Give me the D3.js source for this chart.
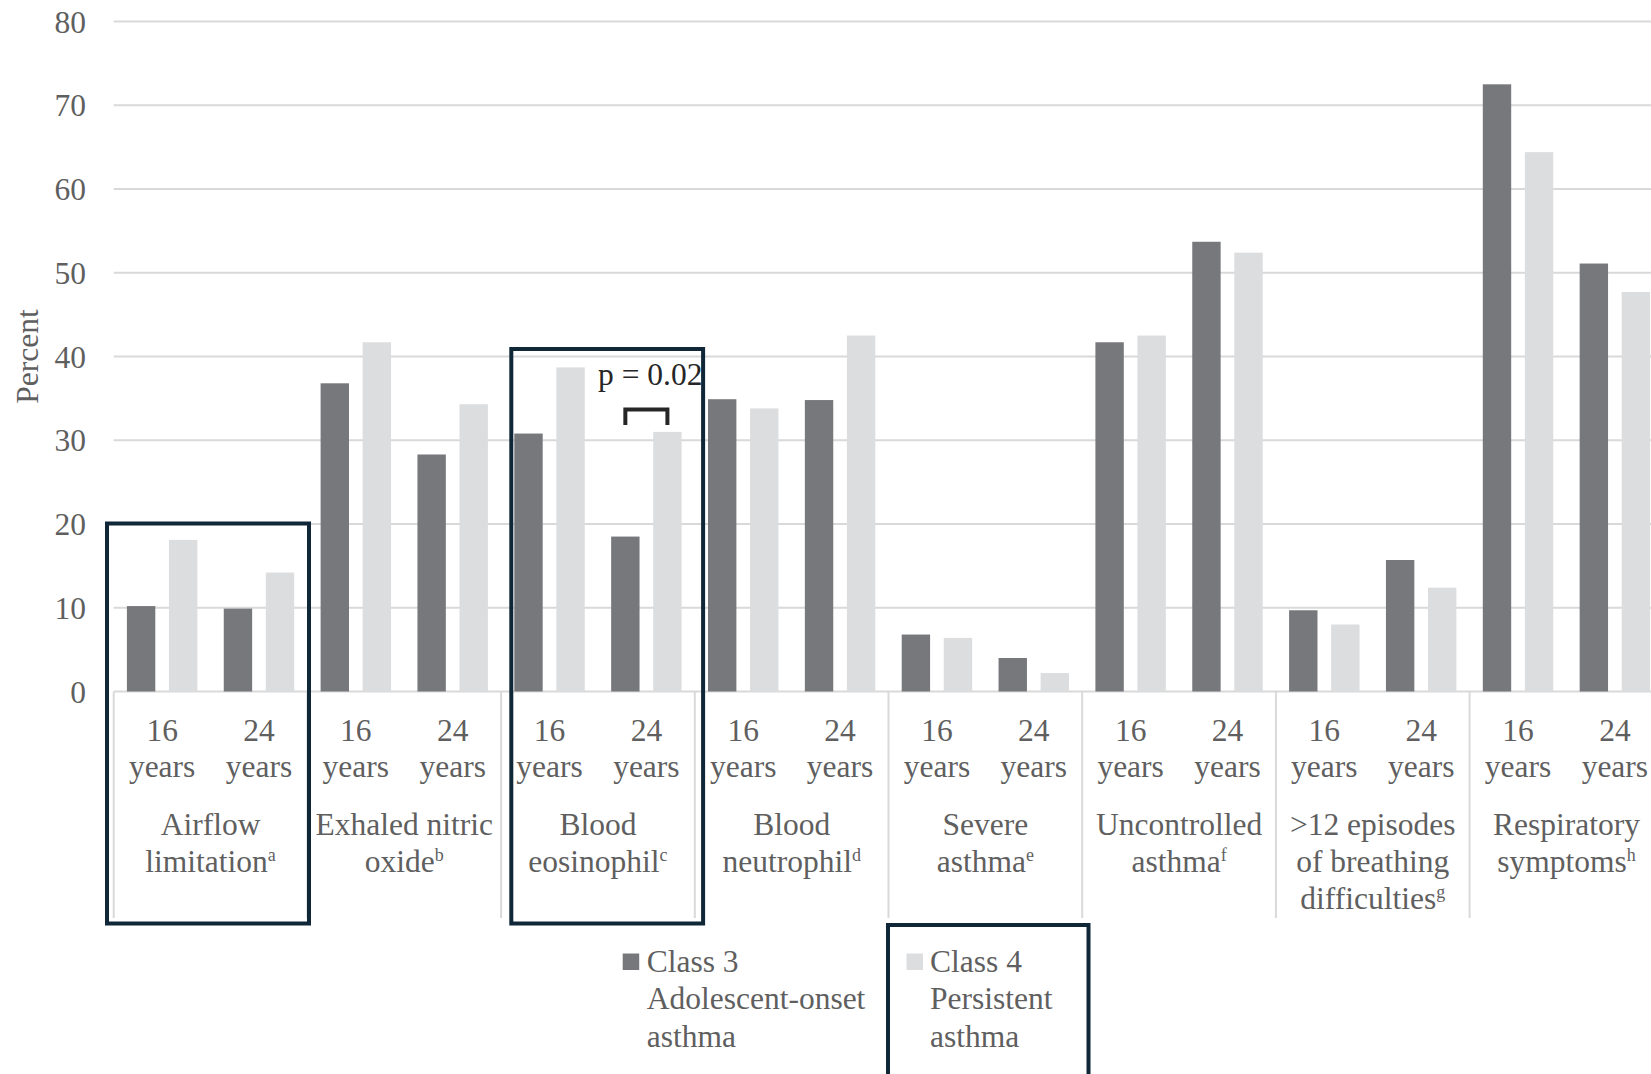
<!DOCTYPE html>
<html>
<head>
<meta charset="utf-8">
<script src="https://cdn.jsdelivr.net/npm/d3@7"></script>
<style>
  html, body { margin: 0; padding: 0; background: #ffffff; }
  svg { display: block; }
  text { font-family: "Liberation Serif", "Times New Roman", serif; }
</style>
</head>
<body>
<svg id="chart" width="1651" height="1074"></svg>
<script>
// Outcome categories (label lines) and their footnote markers
const categoryLines = [
  ["Airflow", "limitation"],
  ["Exhaled nitric", "oxide"],
  ["Blood", "eosinophil"],
  ["Blood", "neutrophil"],
  ["Severe", "asthma"],
  ["Uncontrolled", "asthma"],
  [">12 episodes", "of breathing", "difficulties"],
  ["Respiratory", "symptoms"]
];
const footnotes = ["a", "b", "c", "d", "e", "f", "g", "h"];

// Ages at assessment
const ages = ["16", "24"];
const ageUnit = "years";

// Percentages, ordered category by category, 16 then 24 years
const class3Values = [10.2, 9.9, 36.8, 28.3, 30.8, 18.5, 34.9, 34.8, 6.8, 4.0, 41.7, 53.7, 9.7, 15.7, 72.5, 51.1];
const class4Values = [18.1, 14.2, 41.7, 34.3, 38.7, 31.0, 33.8, 42.5, 6.4, 2.2, 42.5, 52.4, 8.0, 12.4, 64.4, 47.7];

// Series names (legend lines)
const seriesKeys = ["class3", "class4"];
const seriesLabels = [["Class 3", "Adolescent-onset", "asthma"], ["Class 4", "Persistent", "asthma"]];
const seriesColors = ["#77787c", "#dcdddf"];

// Y axis ticks
const yTicks = [0, 10, 20, 30, 40, 50, 60, 70, 80];
const yLabel = "Percent";

// Significance note on blood eosinophil at 24 years
const pNote = "p = 0.02";

// ---------------------------------------------------------------
const svg = d3.select("#chart");
const W = 1651, H = 1074;
const FS = 31.5;
const textColor = "#5f5f5f";
const gridColor = "#d9d9d9";
const boxColor = "#0f2737";

const plotLeft = 113.7, plotTop = 21.5, plotBottom = 691.5;
const catWidth = 193.7;

const catIdx = categoryLines.map((d, i) => i);
const x0 = d3.scaleBand().domain(catIdx).range([plotLeft, plotLeft + catWidth * catIdx.length]).padding(0);
const x1 = d3.scaleBand().domain(ages).range([0, x0.bandwidth()]).padding(0);
const x2 = d3.scaleBand().domain(seriesKeys).range([0, x1.bandwidth()])
  .paddingInner(0.325).paddingOuter(0.314);
const y = d3.scaleLinear().domain([0, 80]).range([plotBottom, plotTop]);

// rows of data
const rows = [];
catIdx.forEach(c => ages.forEach((a, j) => {
  const k = c * 2 + j;
  rows.push({ cat: c, age: a, class3: class3Values[k], class4: class4Values[k] });
}));

// gridlines
svg.append("g").selectAll("line").data(yTicks).join("line")
  .attr("x1", plotLeft).attr("x2", W + 20)
  .attr("y1", d => y(d)).attr("y2", d => y(d))
  .attr("stroke", gridColor).attr("stroke-width", 2);

// y axis tick labels
const yAxis = d3.axisLeft(y).tickValues(yTicks).tickSize(0).tickPadding(0);
const yG = svg.append("g").attr("transform", "translate(86,0)").call(yAxis);
yG.select(".domain").remove();
yG.selectAll("text")
  .attr("font-size", FS).attr("fill", textColor)
  .attr("font-family", "'Liberation Serif', 'Times New Roman', serif")
  .attr("x", 0).attr("dy", "0.34em");

// y axis title
svg.append("text")
  .attr("transform", `translate(37.5,${(plotTop + plotBottom) / 2}) rotate(-90)`)
  .attr("text-anchor", "middle").attr("font-size", FS).attr("fill", textColor)
  .text(yLabel);

// category separators below the axis
const sepX = catIdx.map(c => x0(c)).concat([x0(catIdx.length - 1) + x0.bandwidth()]);
svg.append("g").selectAll("line").data(sepX).join("line")
  .attr("x1", d => d).attr("x2", d => d)
  .attr("y1", plotBottom).attr("y2", 918)
  .attr("stroke", gridColor).attr("stroke-width", 2);

// bars
const groups = svg.append("g").selectAll("g").data(rows).join("g")
  .attr("transform", d => `translate(${x0(d.cat) + x1(d.age)},0)`);
groups.selectAll("rect")
  .data(d => seriesKeys.map((k, i) => ({ key: k, value: d[k], color: seriesColors[i] })))
  .join("rect")
  .attr("x", d => x2(d.key))
  .attr("width", x2.bandwidth())
  .attr("y", d => y(d.value))
  .attr("height", d => y(0) - y(d.value))
  .attr("fill", d => d.color);

// age labels
const ageG = svg.append("g").attr("font-size", FS).attr("fill", textColor).attr("text-anchor", "middle");
rows.forEach(r => {
  const cx = x0(r.cat) + x1(r.age) + x1.bandwidth() / 2;
  ageG.append("text").attr("x", cx).attr("y", 740.7).text(r.age);
  ageG.append("text").attr("x", cx).attr("y", 776.7).text(ageUnit);
});

// category labels with footnote superscripts
const catG = svg.append("g").attr("font-size", FS).attr("fill", textColor).attr("text-anchor", "middle");
categoryLines.forEach((lines, c) => {
  const cx = x0(c) + x0.bandwidth() / 2;
  lines.forEach((line, li) => {
    const t = catG.append("text").attr("x", cx).attr("y", 835 + li * 37);
    t.append("tspan").text(line);
    if (li === lines.length - 1) {
      t.append("tspan").attr("font-size", 18).attr("dy", -11).text(footnotes[c]);
    }
  });
});

// significance bracket on eosinophil, 24 years
const eosX = x0(2) + x1("24");
const bx1 = eosX + x2("class3") + x2.bandwidth() / 2;
const bx2 = eosX + x2("class4") + x2.bandwidth() / 2;
svg.append("path")
  .attr("d", `M${bx1},425 V409.5 H${bx2} V425`)
  .attr("fill", "none").attr("stroke", "#262626").attr("stroke-width", 4);
svg.append("text").attr("x", 598).attr("y", 385)
  .attr("font-size", FS).attr("fill", "#262626").text(pNote);

// legend
const legendPos = [{ sx: 622.7, tx: 646.7 }, { sx: 906.5, tx: 930 }];
const legG = svg.append("g").attr("font-size", FS).attr("fill", textColor);
seriesLabels.forEach((lines, i) => {
  legG.append("rect").attr("x", legendPos[i].sx).attr("y", 953.5)
    .attr("width", 16.5).attr("height", 16.5).attr("fill", seriesColors[i]);
  lines.forEach((line, li) => {
    legG.append("text").attr("x", legendPos[i].tx).attr("y", 971.7 + li * 37.5).text(line);
  });
});

// highlight frames
const frames = [
  { x: x0(0) - 6.7, w: 202, top: 523.5, bottom: 923.5 },
  { x: x0(2) + 10.2, w: 191.8, top: 349, bottom: 923.5 },
  { x: 888, w: 200.5, top: 925, bottom: 1085 }
];
svg.append("g").selectAll("rect").data(frames).join("rect")
  .attr("x", d => d.x).attr("y", d => d.top)
  .attr("width", d => d.w).attr("height", d => d.bottom - d.top)
  .attr("fill", "none").attr("stroke", boxColor).attr("stroke-width", 4);
</script>
</body>
</html>
